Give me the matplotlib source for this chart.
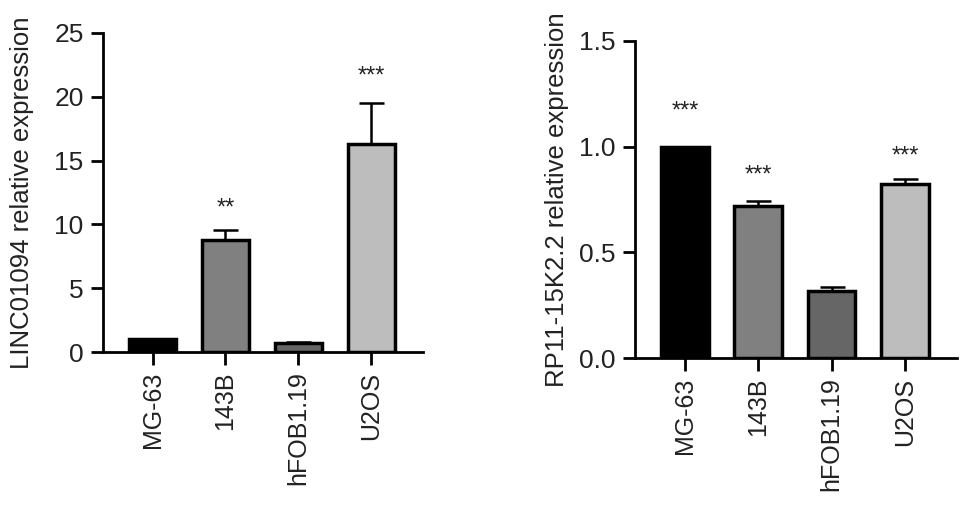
import matplotlib
matplotlib.use("Agg")
import matplotlib.pyplot as plt
import numpy as np

plt.rcParams['font.family'] = ['Liberation Sans', 'DejaVu Sans']

categories = ["MG-63", "143B", "hFOB1.19", "U2OS"]
colors = ["#000000", "#808080", "#666666", "#bdbdbd"]

linc_values = [1.0, 8.75, 0.7, 16.3]
linc_err = [0.0, 0.85, 0.08, 3.2]
linc_stars = ["", "**", "", "***"]
linc_star_y = [None, 11.25, None, 21.6]

rp_values = [1.0, 0.72, 0.317, 0.825]
rp_err = [0.0, 0.025, 0.02, 0.02]
rp_stars = ["***", "***", "", "***"]
rp_star_y = [1.165, 0.865, None, 0.955]

W, H = 969, 507
fig = plt.figure(figsize=(W / 100, H / 100), dpi=100)


def panel(rect, values, errs, stars, star_y, ylim, yticks, yticklabels, ylabel, labx):
    ax = fig.add_axes(rect)
    x = np.arange(len(categories))
    ax.bar(x, values, width=0.65, color=colors, edgecolor="black", linewidth=2.5, zorder=2)
    for xi, v, e in zip(x, values, errs):
        if e > 0:
            ax.errorbar(xi, v, yerr=[[0], [e]], fmt="none", ecolor="black",
                        elinewidth=1.8, capsize=9, capthick=1.8, zorder=1)
    for xi, s, sy in zip(x, stars, star_y):
        if s:
            ax.text(xi, sy, s, ha="center", va="center", fontsize=17, color="#222222")
    ax.set_xlim(-0.68, 3.71)
    ax.set_ylim(*ylim)
    ax.set_yticks(yticks)
    ax.set_yticklabels(yticklabels, fontsize=19, color="#222222")
    ax.set_xticks(x)
    ax.set_xticklabels(categories, rotation=90, fontsize=18, color="#222222")
    ax.spines["top"].set_visible(False)
    ax.spines["right"].set_visible(False)
    ax.spines["left"].set_linewidth(2)
    ax.spines["bottom"].set_linewidth(2)
    ax.tick_params(axis="both", width=2, length=9, direction="out", colors="black", pad=5)
    ax.tick_params(axis="both", labelcolor="#222222")
    ax.set_ylabel(ylabel, fontsize=18.5, color="#222222")
    ax.yaxis.set_label_coords(labx, 0.5)
    for spine in ax.spines.values():
        spine.set_zorder(3)
    return ax


ax1 = panel([103 / W, 1 - 352 / H, 320 / W, 319 / H], linc_values, linc_err, linc_stars, linc_star_y,
            (0, 25), [0, 5, 10, 15, 20, 25], ["0", "5", "10", "15", "20", "25"],
            "LINC01094 relative expression", (34 - 103) / 320)
ax2 = panel([635 / W, 1 - 358 / H, 322 / W, 317 / H], rp_values, rp_err, rp_stars, rp_star_y,
            (0, 1.5), [0, 0.5, 1.0, 1.5], ["0.0", "0.5", "1.0", "1.5"],
            "RP11-15K2.2 relative expression", (569 - 635) / 322)

fig.savefig("out.png", dpi=100)
